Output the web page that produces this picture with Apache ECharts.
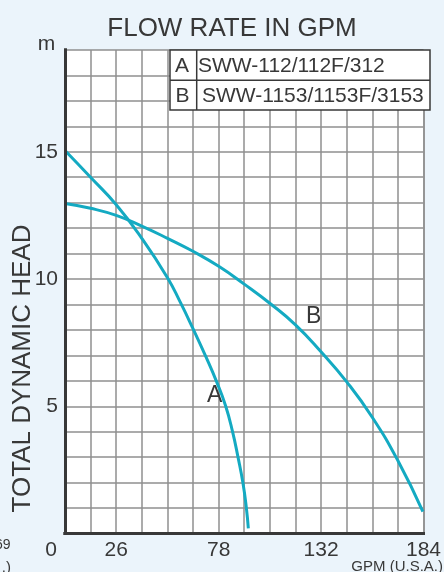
<!DOCTYPE html>
<html>
<head>
<meta charset="utf-8">
<script src="https://cdn.jsdelivr.net/npm/echarts@6/dist/echarts.min.js"></script>
<style>
  html, body { margin: 0; padding: 0; background: #EBF4FB; }
  #chart { width: 444px; height: 572px; }
</style>
</head>
<body>
<div id="chart"></div>
<script>
// flow (GPM) / head (m)
const flowA = [0, 13.1, 26.3, 39.4, 52.6, 59.1, 65.7, 72.3, 77.9, 82.5, 86.0, 88.8, 91.3, 93.1, 94.1];
const headA = [15.05, 14.0, 12.92, 11.6, 10.05, 9.1, 8.05, 6.95, 5.95, 5.0, 4.0, 3.0, 2.0, 1.0, 0.2];
const flowB = [0, 13.1, 26.3, 39.4, 52.6, 65.7, 78.9, 92.0, 105.1, 118.3, 131.4, 144.6, 157.7, 170.9, 183.7];
const headB = [12.97, 12.78, 12.5, 12.08, 11.6, 11.09, 10.5, 9.8, 9.05, 8.2, 7.14, 5.96, 4.57, 2.86, 0.86];

const curveNames = ['A', 'B'];
const modelNames = ['SWW-112/112F/312', 'SWW-1153/1153F/3153'];

// 14 columns over 184 GPM, only a few columns get a label
const xMax = 184;
const xCells = 14;
const xTickLabels = ['0', '', '26', '', '', '', '78', '', '', '', '132', '', '', '', '184'];
const yMax = 19;
const yTickLabels = [5, 10, 15];

const FONT = '"Liberation Sans", Arial, sans-serif';
const INK = '#383838';
const LINE = '#14AAC2';

let chart = echarts.init(document.getElementById('chart'));

const pairs = (xs, ys) => xs.map((x, i) => [x, ys[i]]);

const borderAxis = {
  show: true,
  axisLine: {show: true, lineStyle: {color: INK, width: 3, cap: 'square'}},
  axisTick: {show: false},
  axisLabel: {show: false},
  splitLine: {show: false},
};

const txt = (x, y, text, size, align, extra) => Object.assign({
  type: 'text',
  x: x,
  y: y,
  z: 3,
  style: {
    text: text,
    font: size + 'px ' + FONT,
    fill: INK,
    align: align || 'center',
    verticalAlign: 'middle',
  },
}, extra || {});

const curve = (name, data) => ({
  name: name,
  type: 'line',
  smooth: 0.5,
  symbol: 'none',
  lineStyle: {color: LINE, width: 3},
  data: data,
});

chart.setOption({
  backgroundColor: '#EBF4FB',
  animation: false,
  title: {
    text: 'FLOW RATE IN GPM',
    left: 227,
    top: 11,
    textAlign: 'center',
    textStyle: {fontFamily: FONT, fontSize: 26, fontWeight: 'normal', color: INK},
  },
  grid: {
    left: 65,
    right: 14,
    top: 50,
    bottom: 38.5,
    show: true,
    backgroundColor: '#fff',
    borderWidth: 0,
  },
  xAxis: [{
    type: 'value',
    min: 0,
    max: xMax,
    interval: xMax / xCells,
    axisLine: {lineStyle: {color: INK, width: 3, cap: 'square'}},
    axisTick: {show: false},
    splitLine: {lineStyle: {color: '#8f8f8f', width: 1.5}},
    axisLabel: {
      margin: 6,
      color: INK,
      fontFamily: FONT,
      fontSize: 21,
      showMinLabel: true,
      showMaxLabel: true,
      formatter: (v, i) => i === 0 ? '{o|' + xTickLabels[0] + '}' : (xTickLabels[i] || ''),
      rich: {o: {fontFamily: FONT, fontSize: 21, color: INK, padding: [0, 28, 0, 0]}},
    },
  }, Object.assign({type: 'value', position: 'top', min: 0, max: xMax, z: 5}, borderAxis)],
  yAxis: [{
    type: 'value',
    min: 0,
    max: yMax,
    interval: 1,
    axisLine: {show: true, lineStyle: {color: INK, width: 3, cap: 'square'}},
    axisTick: {show: false},
    splitLine: {lineStyle: {color: '#8f8f8f', width: 1.5}},
    axisLabel: {
      margin: 7,
      color: INK,
      fontFamily: FONT,
      fontSize: 21,
      formatter: (v) => yTickLabels.indexOf(v) >= 0 ? String(v) : '',
    },
  }, Object.assign({type: 'value', position: 'right', min: 0, max: yMax, z: 5}, borderAxis)],
  series: [
    curve(curveNames[0], pairs(flowA, headA)),
    curve(curveNames[1], pairs(flowB, headB)),
  ],
  graphic: [
    // model table in the top right corner
    {
      type: 'rect', z: 3,
      shape: {x: 170, y: 50, width: 260, height: 60},
      style: {fill: '#fff', stroke: INK, lineWidth: 1.5},
    },
    {type: 'line', z: 3, shape: {x1: 170, y1: 80.3, x2: 430, y2: 80.3}, style: {stroke: INK, lineWidth: 1.5}},
    {type: 'line', z: 3, shape: {x1: 196.7, y1: 50, x2: 196.7, y2: 110}, style: {stroke: INK, lineWidth: 1.5}},
    txt(182, 66, curveNames[0], 21),
    txt(198, 66, modelNames[0], 21, 'left'),
    txt(182.5, 96, curveNames[1], 21),
    txt(202, 96, modelNames[1], 21, 'left'),
    // curve tags
    txt(214.7, 395.5, curveNames[0], 23),
    txt(313.7, 317, curveNames[1], 23),
    // units and axis title
    txt(46.5, 44, 'm', 21),
    txt(23.3, 368.5, 'TOTAL DYNAMIC HEAD', 26, 'center', {rotation: Math.PI / 2}),
    txt(443, 567, 'GPM (U.S.A.)', 15, 'right'),
    // cut off labels at the left edge
    txt(10.5, 545, '69', 14, 'right'),
    txt(11, 568, '.)', 15, 'right'),
  ],
});
</script>
</body>
</html>
